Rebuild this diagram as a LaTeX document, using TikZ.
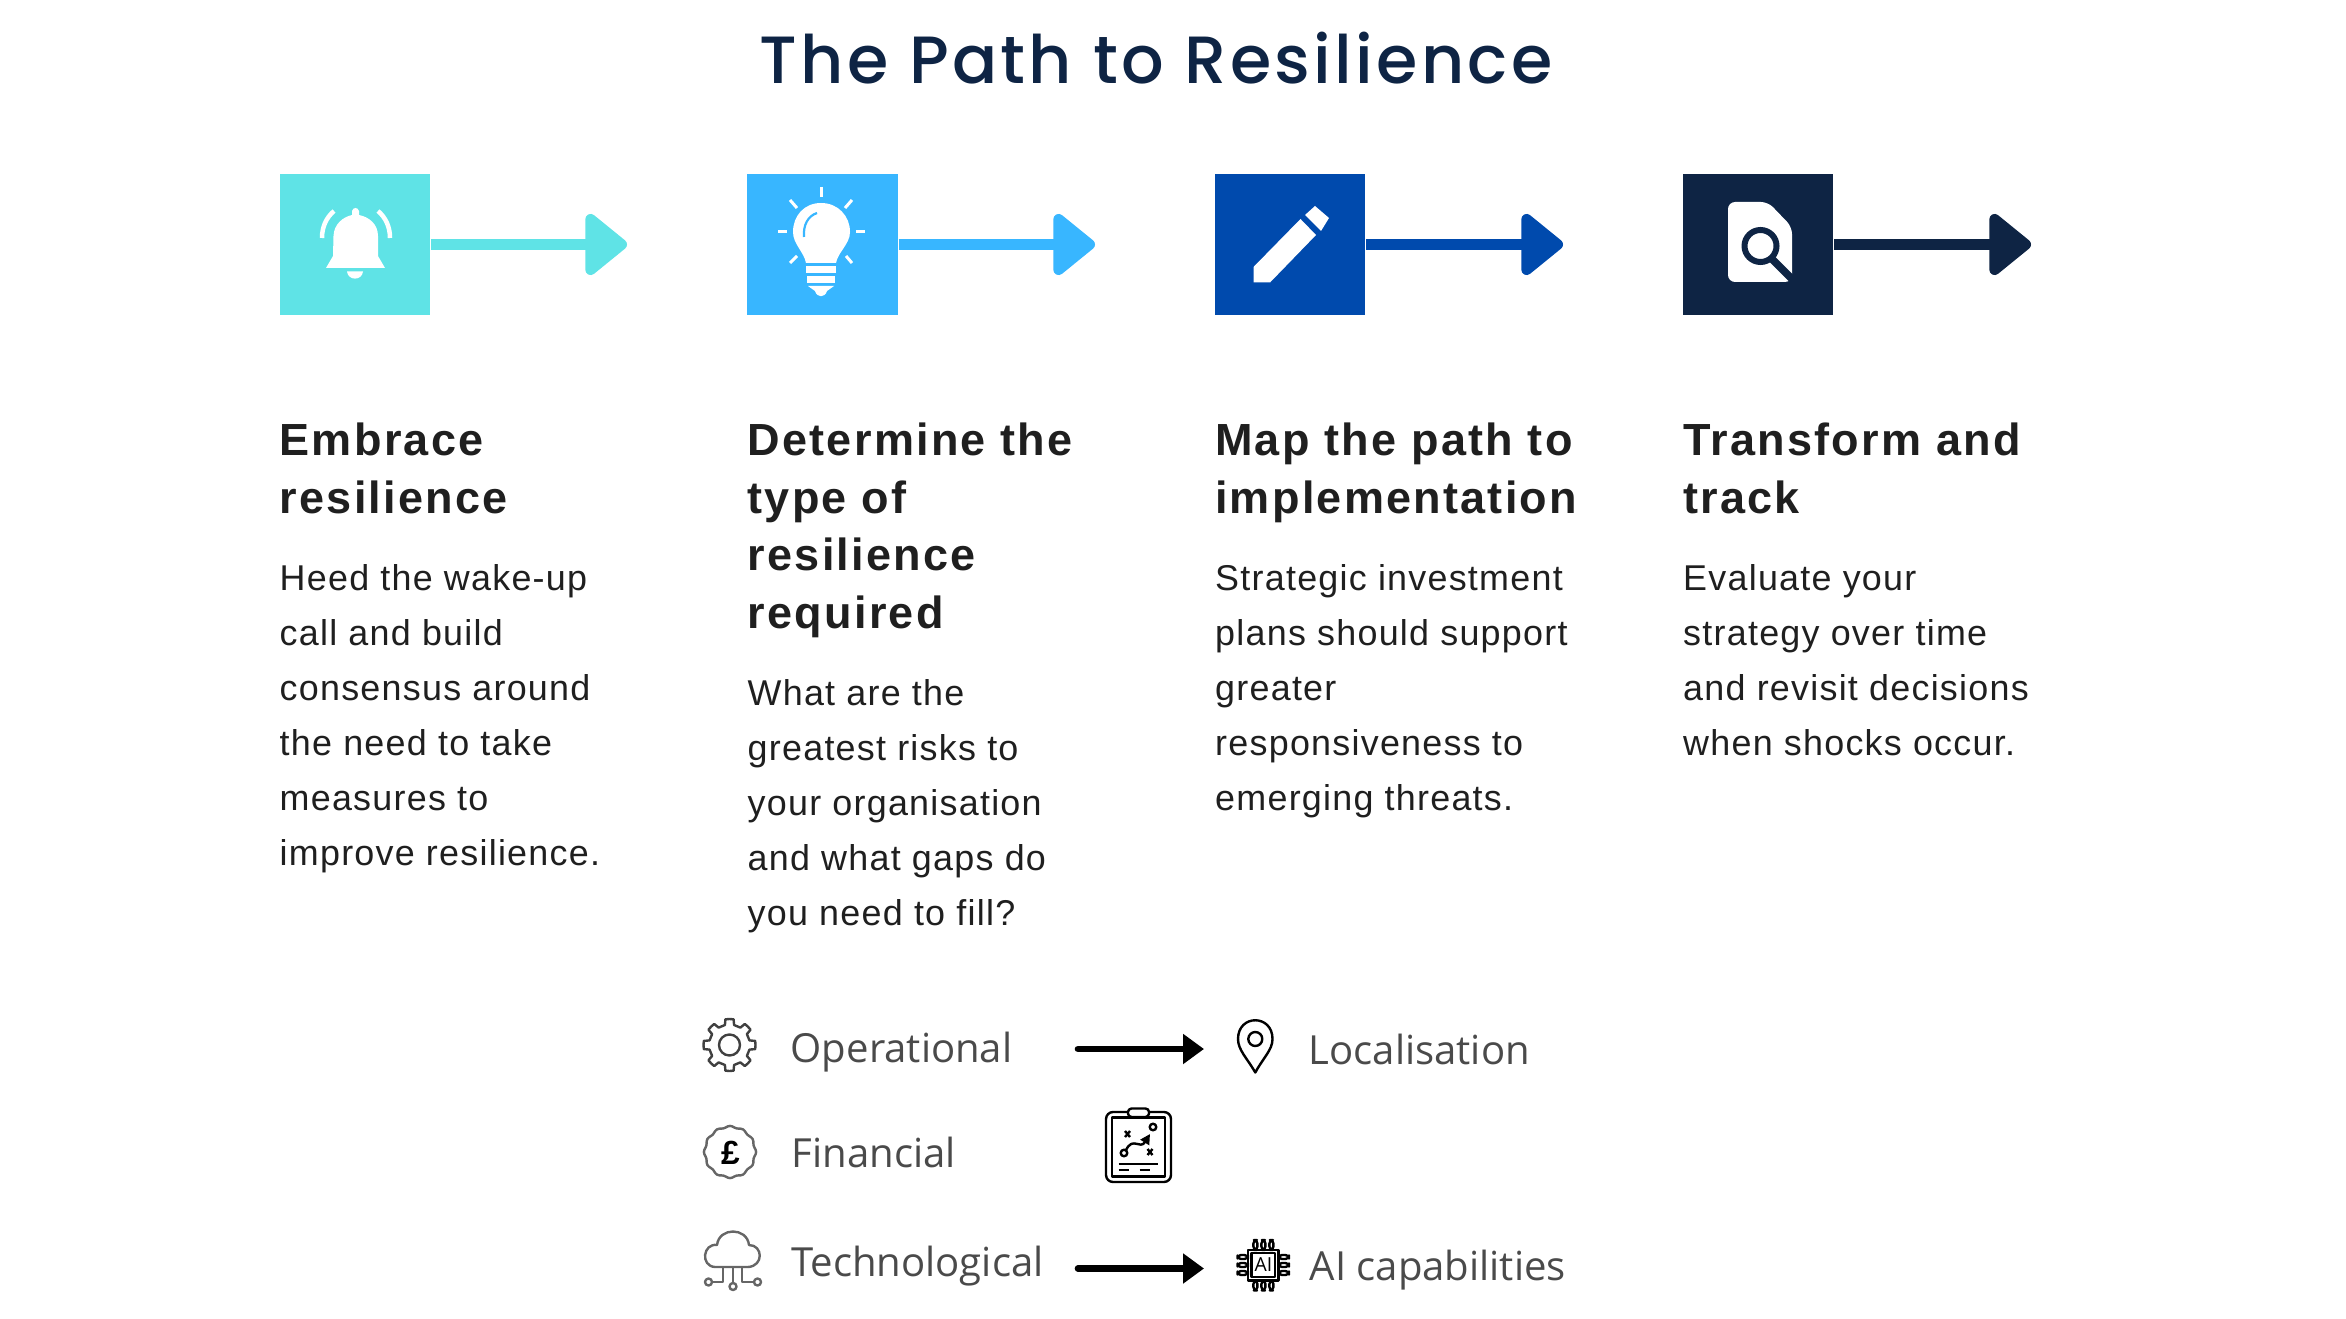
\documentclass[tikz,border=0pt]{standalone}
\usepackage{fontspec}
\setmainfont[LetterSpace=3.5]{Liberation Sans}
\newfontfamily\headfont[LetterSpace=5]{Liberation Sans}
\newfontfamily\titlefont[LetterSpace=5]{Poppins Medium}
\newfontfamily\lightfont{Open Sans}
\usetikzlibrary{arrows.meta}
\usetikzlibrary{positioning}

\definecolor{cyanbox}{HTML}{5FE3E6}
\definecolor{skybox}{HTML}{38B6FF}
\definecolor{bluebox}{HTML}{004AAD}
\definecolor{navybox}{HTML}{0E2444}
\definecolor{inktext}{HTML}{1F1F1F}
\definecolor{thintext}{HTML}{4A4A4A}

\tikzset{
    iconbox/.style={minimum width=1.505cm, minimum height=1.415cm, inner sep=0pt},
    steparrow/.style={line width=1.06mm, -{Triangle[length=4.5mm, width=7mm, round]}},
    headtext/.style={anchor=north west, align=left, inner sep=0pt, text=inktext,
        font=\fontsize{12.8}{16.33}\headfont\bfseries,
        execute at begin node=\strut, execute at end node=\strut},
    bodytext/.style={anchor=north west, align=left, inner sep=0pt, text=inktext,
        font=\fontsize{10.2}{15.6}\selectfont, execute at begin node=\strut},
    risktext/.style={anchor=base west, inner sep=0pt, text=thintext,
        font=\fontsize{11.4}{14}\lightfont},
    linkarrow/.style={line width=0.67mm, line cap=round, -{Triangle[length=2.1mm, width=2.9mm]}},
    thinicon/.style={draw=black!75, line width=0.24mm, line join=round}
}

\begin{document}
\begin{tikzpicture}[x=0.01cm, y=-0.01cm]
    \useasboundingbox (0,0) rectangle (2346,1319);

    \node[anchor=base, inner sep=0pt, text=navybox, font=\fontsize{19}{24}\titlefont] (title) at (1156,84) {The Path to Resilience};

    % Icon boxes
    \node[iconbox, fill=cyanbox] (box1) at (355,244.5) {};
    \node[iconbox, fill=skybox] (box2) at (822.5,244.5) {};
    \node[iconbox, fill=bluebox] (box3) at (1290,244.5) {};
    \node[iconbox, fill=navybox] (box4) at (1758,244.5) {};

    \coordinate (tip1) at (627,244.5);
    \coordinate (tip2) at (1095,244.5);
    \coordinate (tip3) at (1563,244.5);
    \coordinate (tip4) at (2031,244.5);

    \draw[steparrow, cyanbox] (box1) -- (tip1);
    \draw[steparrow, skybox] (box2) -- (tip2);
    \draw[steparrow, bluebox] (box3) -- (tip3);
    \draw[steparrow, navybox] (box4) -- (tip4);

    % Bell
    \fill[white] (326,268) -- (333,256) -- (333.5,236) .. controls (334,224) and (343,217) .. (352,215)
        -- (352,211) .. controls (353,207) and (358,207) .. (359,211) -- (359,215)
        .. controls (369,217) and (378,224) .. (378,236) -- (378,256) -- (385,268) -- cycle;
    \fill[white] (347,271.5) -- (363,271.5) .. controls (362,281) and (348,281) .. (347,271.5) -- cycle;
    \draw[white, line width=0.45mm] (322,238) .. controls (322,226) and (327,217) .. (334,211);
    \draw[white, line width=0.45mm] (390,238) .. controls (390,226) and (385,217) .. (378,211);

    % Bulb
    \fill[white] (821,203) .. controls (838,203) and (850,216) .. (850,232) .. controls (850,244) and (838,252) .. (836,263)
        -- (806,263) .. controls (804,252) and (793,244) .. (793,232) .. controls (793,216) and (804,203) .. (821,203) -- cycle;
    \fill[white] (806,266) rectangle (836,273);
    \fill[white] (807,276) rectangle (835,283);
    \fill[white] (808,286) -- (834,286) -- (827,291) .. controls (825,298) and (817,298) .. (815,291) -- cycle;
    \draw[skybox, line width=0.22mm] (817,213) .. controls (808,216) and (803,225) .. (804,237);
    \draw[white, line width=0.3mm] (821,187) -- (821,197);
    \draw[white, line width=0.3mm] (790,200) -- (797,208);
    \draw[white, line width=0.3mm] (852,200) -- (845,208);
    \draw[white, line width=0.3mm] (778,232) -- (787,232);
    \draw[white, line width=0.3mm] (856,232) -- (865,232);
    \draw[white, line width=0.3mm] (797,256) -- (790,263);
    \draw[white, line width=0.3mm] (846,256) -- (852,263);

    % Pencil
    \fill[white] (1253.5,267) -- (1300.5,219) -- (1316,235) -- (1270,282.5) -- (1253.5,282.5) -- cycle;
    \fill[white] (1305,215) -- (1315,206) -- (1329,218) -- (1321,231) -- cycle;

    % Document and lens
    \fill[white, rounded corners=2pt] (1728,202) -- (1768,202) -- (1792,227) -- (1792,282) -- (1728,282) -- cycle;
    \draw[navybox, line width=0.6mm] (1760.5,246) circle[radius=16];
    \draw[navybox, line width=0.75mm] (1772,259) -- (1793,280);

    % Step texts
    \node[headtext] (head1) at (279,422.5) {Embrace\\resilience};
    \node[headtext] (head2) at (747,422.5) {Determine the\\type of\\resilience\\required};
    \node[headtext] (head3) at (1214.5,422.5) {Map the path to\\implementation};
    \node[headtext] (head4) at (1682.5,422.5) {Transform and\\track};

    \node[bodytext, below=9.4pt of head1.south west, anchor=north west] (body1) {Heed the wake-up\\call and build\\consensus around\\the need to take\\measures to\\improve resilience.};
    \node[bodytext, below=9.4pt of head2.south west, anchor=north west] (body2) {What are the\\greatest risks to\\your organisation\\and what gaps do\\you need to fill?};
    \node[bodytext, below=9.4pt of head3.south west, anchor=north west] (body3) {Strategic investment\\plans should support\\greater\\responsiveness to\\emerging threats.};
    \node[bodytext, below=9.4pt of head4.south west, anchor=north west] (body4) {Evaluate your\\strategy over time\\and revisit decisions\\when shocks occur.};

    % Risk rows
    \node[risktext] (oper) at (790,1062) {Operational};
    \node[risktext] (fina) at (791,1167.5) {Financial};
    \node[risktext] (tech) at (790.5,1276.5) {Technological};
    \node[risktext] (loca) at (1308,1064) {Localisation};
    \node[risktext] (aica) at (1309,1280.5) {AI capabilities};

    \coordinate (link1a) at (1078,1049);
    \coordinate (link1b) at (1204,1049);
    \coordinate (link2a) at (1078,1268.5);
    \coordinate (link2b) at (1204,1268.5);
    \draw[linkarrow] (link1a) -- (link1b);
    \draw[linkarrow] (link2a) -- (link2b);

    % Gear
    \begin{scope}[shift={(729.5,1045)}]
        \draw[thinicon] (0:26) \foreach \a in {0,45,...,315} { -- (\a+9:26) -- (\a+13:20.5) -- (\a+32:20.5) -- (\a+36:26) -- (\a+45:26) } -- cycle;
        \draw[thinicon] (0,0) circle[radius=10.5];
    \end{scope}

    % Pound badge
    \draw[thinicon, draw=black!60, smooth] plot[domain=0:360, samples=73] ({730+(25.3+0.8*cos(12*\x))*cos(\x)}, {1152+(25.3+0.8*cos(12*\x))*sin(\x)}) -- cycle;
    \node[inner sep=0pt, font=\fontsize{9.5}{10}\selectfont\bfseries] (pound) at (730.5,1152.5) {£};

    % Cloud
    \draw[thinicon, draw=black!60] (715,1267) .. controls (700,1266) and (703,1243) .. (717,1245)
        .. controls (719,1227) and (747,1227) .. (749,1245) .. controls (763,1245) and (764,1266) .. (748,1267) -- cycle;
    \draw[thinicon, draw=black!60] (723,1267) -- (723,1282) -- (712,1282);
    \draw[thinicon, draw=black!60] (733,1267) -- (733,1283);
    \draw[thinicon, draw=black!60] (742,1267) -- (742,1282) -- (754,1282);
    \draw[thinicon, draw=black!60] (708.5,1282) circle[radius=3.5];
    \draw[thinicon, draw=black!60] (733,1286.5) circle[radius=3.5];
    \draw[thinicon, draw=black!60] (757.5,1282) circle[radius=3.5];

    % Clipboard
    \draw[thinicon, draw=black, rounded corners=2pt] (1106,1112) rectangle (1171,1182);
    \draw[thinicon, draw=black] (1112,1117.5) rectangle (1165,1176.5);
    \draw[thinicon, draw=black, fill=white, rounded corners=1pt] (1128,1108.5) rectangle (1149,1117);
    \draw[thinicon, draw=black] (1125,1131) -- (1130,1137) (1130,1131) -- (1125,1137);
    \draw[thinicon, draw=black] (1147.5,1149) -- (1152.5,1155) (1152.5,1149) -- (1147.5,1155);
    \draw[thinicon, draw=black] (1153,1127) circle[radius=3.3];
    \draw[thinicon, draw=black] (1124,1153) circle[radius=3.3];
    \draw[thinicon, draw=black, -{Triangle[length=1mm, width=1mm]}] (1126,1150) .. controls (1133,1136) and (1140,1150) .. (1150,1134);
    \draw[thinicon, draw=black] (1118.5,1164) -- (1157.5,1164);
    \draw[thinicon, draw=black, dashed] (1118.5,1170) -- (1157.5,1170);

    % Pin
    \draw[thinicon, draw=black] (1255.3,1072.5) .. controls (1247,1058) and (1238,1050) .. (1238,1039) .. controls (1238,1014) and (1272.5,1014) .. (1272.5,1039) .. controls (1272.5,1050) and (1263,1058) .. (1255.3,1072.5) -- cycle;
    \draw[thinicon, draw=black] (1255.3,1039) circle[radius=7];

    % Chip
    \foreach \d in {-8,0,8} {
        \draw[thinicon, draw=black, rounded corners=1pt] (1263.4+\d-2,1240) rectangle (1263.4+\d+2,1250);
        \draw[thinicon, draw=black, rounded corners=1pt] (1263.4+\d-2,1280.5) rectangle (1263.4+\d+2,1290.5);
        \draw[thinicon, draw=black, rounded corners=1pt] (1237.5,1265+\d-2) rectangle (1248,1265+\d+2);
        \draw[thinicon, draw=black, rounded corners=1pt] (1278.5,1265+\d-2) rectangle (1289,1265+\d+2);
    }
    \draw[thinicon, draw=black] (1248,1250) rectangle (1278.5,1280.5);
    \node[thinicon, draw=black, minimum width=0.235cm, minimum height=0.235cm, inner sep=0pt, font=\fontsize{5.5}{6}\lightfont] (chip) at (1263.4,1265) {AI};
\end{tikzpicture}
\end{document}
